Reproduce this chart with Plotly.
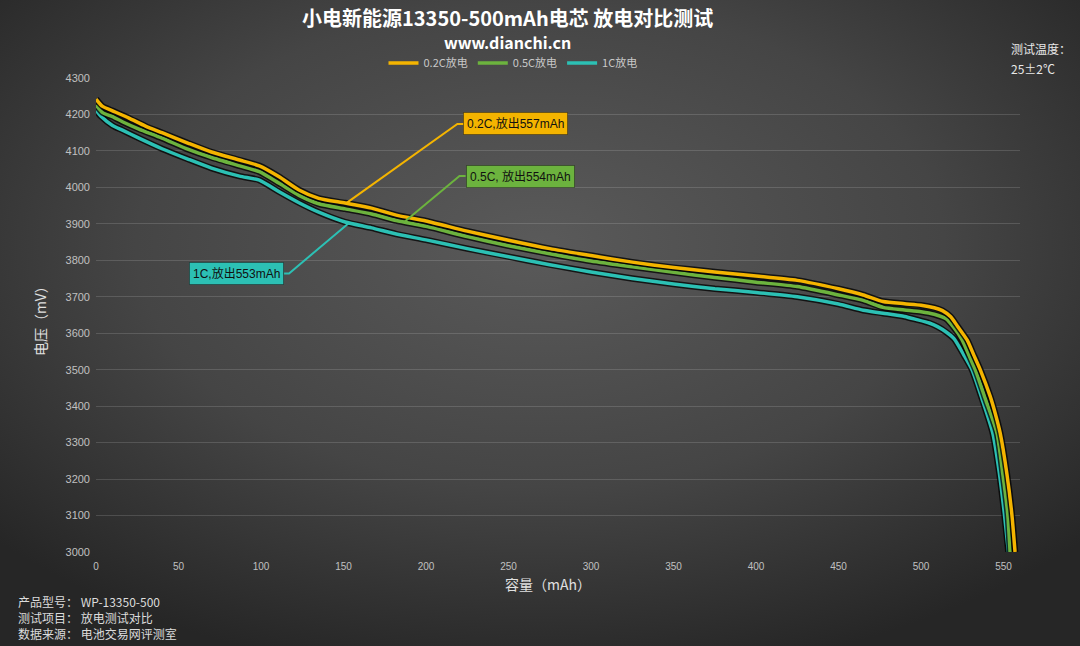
import base64
import plotly.graph_objects as go

# ---------------- data ----------------
series_names = ["0.2C放电", "0.5C放电", "1C放电"]

c02_x = [0, 4, 10, 20, 30, 40, 56, 70, 87, 99, 111, 123, 135, 151, 167, 182, 200,
         225, 250, 275, 300, 325, 350, 375, 400, 425, 450, 465, 477, 490, 500, 508, 513, 518, 522,
         528, 532, 536, 542, 545, 548, 552, 555, 557]
c02_y = [4242, 4222, 4210, 4190, 4168, 4150, 4121, 4097, 4075, 4059, 4029, 3993, 3970, 3957, 3943,
         3924, 3908, 3880, 3855, 3832, 3813, 3795, 3780, 3768, 3757, 3745, 3722,
         3705, 3687, 3681, 3677, 3670, 3662, 3645, 3620, 3581, 3540, 3499, 3426, 3380, 3326, 3216,
         3106, 3000]

c05_x = [0, 4, 10, 16, 26, 40, 56, 70, 87, 99, 111, 123, 135, 151, 167, 182, 200,
         225, 250, 275, 300, 325, 350, 375, 400, 425, 450, 465, 477, 490, 500, 508, 515, 520, 525,
         529, 533, 539, 546, 549.5, 552.5, 554]
c05_y = [4226, 4205, 4194, 4180, 4160, 4135, 4104, 4082, 4059, 4043, 4011, 3978, 3955, 3941, 3927,
         3909, 3893, 3865, 3840, 3818, 3798, 3782, 3767, 3753, 3740, 3728, 3705,
         3690, 3671, 3664, 3659, 3652, 3640, 3615, 3581, 3540, 3499, 3420, 3326, 3216, 3106, 3000]

c1_x = [0, 3, 10, 16, 26, 40, 56, 70, 87, 99, 111, 123, 135, 151, 167, 182, 200,
        225, 250, 275, 300, 325, 350, 375, 400, 425, 450, 465, 477, 490, 497, 505, 510, 515, 520,
        526, 531, 537, 543.5, 547.5, 550.5, 553]
c1_y = [4212, 4195, 4170, 4157, 4135, 4106, 4077, 4053, 4031, 4020, 3988, 3958, 3932, 3905, 3889,
        3872, 3856, 3832, 3810, 3788, 3768, 3750, 3735, 3722, 3712, 3700, 3680,
        3663, 3655, 3646, 3638, 3628, 3618, 3604, 3585, 3540, 3499, 3420, 3326, 3216, 3106, 3000]

callout_texts = ["0.2C,放出557mAh", "0.5C, 放出554mAh", "1C,放出553mAh"]
# leader lines: [curve point, elbow, box edge] in (mAh, mV)
lead02_x = [151.5, 219, 222.7]
lead02_y = [3956, 4174, 4174]
lead05_x = [187, 220.3, 224]
lead05_y = [3906, 4031, 4031]
lead1_x = [153.5, 117, 114]
lead1_y = [3903, 3764, 3764]

x_ticks = [0, 50, 100, 150, 200, 250, 300, 350, 400, 450, 500, 550]
y_ticks = [3000, 3100, 3200, 3300, 3400, 3500, 3600, 3700, 3800, 3900, 4000, 4100, 4200, 4300]

title_text = "小电新能源13350-500mAh电芯 放电对比测试"
subtitle_text = "www.dianchi.cn"
x_title = "容量（mAh）"
y_title = "电压（mV）"
temp_lines = ["测试温度：", "25±2℃"]
info_lines = ["产品型号：  WP-13350-500", "测试项目：  放电测试对比", "数据来源：  电池交易网评测室"]

# ---------------- style ----------------
colors = ["#F4B400", "#6CB33E", "#2CC0B4"]
W, H = 1080, 646
ML, MR, MT, MB = 96, 60, 78, 94
PW, PH = W - ML - MR, H - MT - MB
FONT = "Liberation Sans, Arial, Noto Sans CJK SC, sans-serif"
CJK = "Noto Sans CJK SC, Liberation Sans, sans-serif"

fig = go.Figure()

series = [(c02_x, c02_y), (c05_x, c05_y), (c1_x, c1_y)]
order = [2, 1, 0]
for i in order:
    xs, ys = series[i]
    fig.add_trace(go.Scatter(x=xs, y=ys, mode="lines", showlegend=False, hoverinfo="skip",
                             line=dict(color="rgba(0,0,0,0.75)", width=6.5, shape="spline", smoothing=0.6)))
    fig.add_trace(go.Scatter(x=xs, y=ys, mode="lines", name=series_names[i], legendrank=i + 1,
                             line=dict(color=colors[i], width=3.5, shape="spline", smoothing=0.6)))

# leader lines
for (lx, ly), col in zip([(lead02_x, lead02_y), (lead05_x, lead05_y), (lead1_x, lead1_y)], colors):
    fig.add_trace(go.Scatter(x=lx, y=ly, mode="lines", showlegend=False, hoverinfo="skip",
                             line=dict(color=col, width=2)))

# callout boxes
box_pos = [(lead02_x[2], lead02_y[2], "left"), (lead05_x[2], lead05_y[2], "left"),
           (lead1_x[2], lead1_y[2], "right")]
for (bx, by, anc), txt, col in zip(box_pos, callout_texts, colors):
    fig.add_annotation(x=bx, y=by, xref="x", yref="y", text=txt, showarrow=False,
                       xanchor=anc, yanchor="middle", bgcolor=col, bordercolor="rgba(0,0,0,0.35)",
                       borderwidth=1, borderpad=3, font=dict(family=FONT, size=12, color="#111"))

# background gradient
svg = (f'<svg xmlns="http://www.w3.org/2000/svg" width="{W}" height="{H}">'
       '<defs><radialGradient id="g" cx="50%" cy="38%" r="68%">'
       '<stop offset="0" stop-color="#5a5a5a"/><stop offset="0.55" stop-color="#454545"/>'
       '<stop offset="1" stop-color="#262626"/></radialGradient></defs>'
       f'<rect width="{W}" height="{H}" fill="url(#g)"/></svg>')
src = "data:image/svg+xml;base64," + base64.b64encode(svg.encode()).decode()
fig.add_layout_image(dict(source=src, xref="paper", yref="paper", x=-ML / PW, y=1 + MT / PH,
                          sizex=W / PW, sizey=H / PH, sizing="stretch", layer="below",
                          xanchor="left", yanchor="top"))

def px(xp):
    return (xp - ML) / PW

def py(yp):
    return 1 - (yp - MT) / PH

# titles
fig.add_annotation(x=px(507), y=py(18), xref="paper", yref="paper", text=f"<b>{title_text}</b>",
                   showarrow=False, xanchor="center", yanchor="middle",
                   font=dict(family=CJK, size=20, color="#ffffff"))
fig.add_annotation(x=px(507), y=py(42), xref="paper", yref="paper", text=f"<b>{subtitle_text}</b>",
                   showarrow=False, xanchor="center", yanchor="middle",
                   font=dict(family=CJK, size=16, color="#ffffff"))
# axis titles
fig.add_annotation(x=px(548), y=py(584), xref="paper", yref="paper", text=x_title, showarrow=False,
                   xanchor="center", yanchor="middle", font=dict(family=CJK, size=14, color="#e0e0e0"))
fig.add_annotation(x=px(40), y=py(318), xref="paper", yref="paper", text=y_title, showarrow=False,
                   textangle=-90, xanchor="center", yanchor="middle",
                   font=dict(family=CJK, size=14, color="#e0e0e0"))
# temperature
for t, yy in zip(temp_lines, [48, 69]):
    fig.add_annotation(x=px(1009), y=py(yy), xref="paper", yref="paper", text=t, showarrow=False,
                       xanchor="left", yanchor="middle", font=dict(family=CJK, size=12, color="#e8e8e8"))
# info
for t, yy in zip(info_lines, [601, 617, 633]):
    fig.add_annotation(x=px(16), y=py(yy), xref="paper", yref="paper", text=t.replace("  ", "&nbsp;"),
                       showarrow=False, xanchor="left", yanchor="middle",
                       font=dict(family=CJK, size=12, color="#dcdcdc"))

fig.update_layout(
    width=W, height=H,
    margin=dict(l=ML, r=MR, t=MT, b=MB),
    paper_bgcolor="#3a3a3a", plot_bgcolor="rgba(0,0,0,0)",
    showlegend=True,
    legend=dict(orientation="h", x=px(513), y=py(63), xanchor="center", yanchor="middle",
                font=dict(family=CJK, size=11, color="#c8c8c8"), bgcolor="rgba(0,0,0,0)",
                itemwidth=30, traceorder="normal"),
    xaxis=dict(range=[0, 560], tickvals=x_ticks, showgrid=False, zeroline=False, showline=False,
               ticks="", ticklabelstandoff=7, tickfont=dict(family=FONT, size=10, color="#c0c0c0")),
    yaxis=dict(range=[3000, 4300], tickvals=y_ticks, showgrid=True, gridcolor="rgba(255,255,255,0.14)",
               gridwidth=1, zeroline=False, showline=False, ticks="", ticklabelstandoff=5,
               tickfont=dict(family=FONT, size=11, color="#c0c0c0")),
)

fig.write_html("out.html", config={"displayModeBar": False},
               post_script="document.body.style.margin='0px';document.body.style.overflow='hidden';")
